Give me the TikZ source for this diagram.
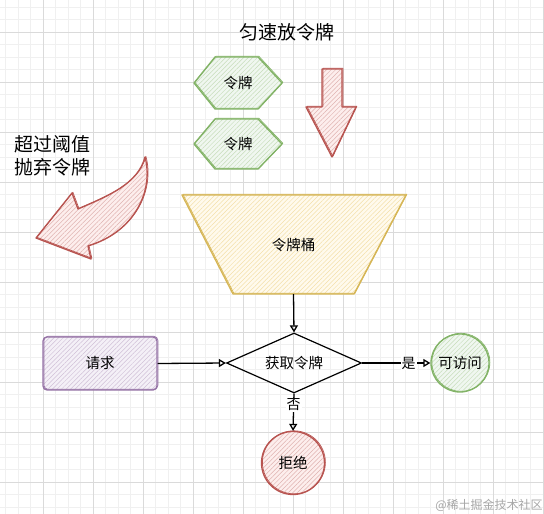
\documentclass[tikz,border=0pt]{standalone}
\usepackage{fontspec}
\setmainfont{Noto Sans CJK SC}
\usetikzlibrary{arrows.meta,shapes.geometric,patterns.meta}
\definecolor{gfill}{HTML}{D5E8D4}\definecolor{gline}{HTML}{82B366}
\definecolor{rfill}{HTML}{F8CECC}\definecolor{rline}{HTML}{B85450}
\definecolor{yfill}{HTML}{FFF2CC}\definecolor{yline}{HTML}{D6B656}
\definecolor{pfill}{HTML}{E1D5E7}\definecolor{pline}{HTML}{9673A6}
\definecolor{minorg}{HTML}{F0F0F0}\definecolor{majorg}{HTML}{DADADA}
\tikzset{
  hatch/.style 2 args={preaction={fill=#1!35!white},pattern={Lines[angle=45,distance=3.2pt,line width=0.5pt]},pattern color=#2!45!white,draw=#2,line width=1.3pt,line join=round,
    postaction={draw=#2,line width=0.7pt,transform canvas={shift={(0.9pt,0.7pt)}}}},
  lbl/.style={font=\fontsize{14.5}{15}\selectfont,inner sep=1pt},
  big/.style={font=\fontsize{19}{23}\selectfont},
  arr/.style={draw=black,line width=1.3pt,-{Triangle[open,length=7pt,width=8pt]}},
  elab/.style={fill=white,font=\fontsize{14}{14}\selectfont,inner sep=1pt}
}
\begin{document}
\begin{tikzpicture}[x=1pt,y=-1pt]
\useasboundingbox (0,0) rectangle (544,514);
\fill[white] (0,0) rectangle (544,514);
\foreach \x in {5.5,18,...,543} \draw[minorg,line width=0.6pt] (\x,0)--(\x,514);
\foreach \y in {7,19.5,...,514} \draw[minorg,line width=0.6pt] (0,\y)--(544,\y);
\foreach \x in {43,93,...,543} \draw[majorg,line width=0.6pt] (\x,0)--(\x,514);
\foreach \y in {32,82,...,514} \draw[majorg,line width=0.6pt] (0,\y)--(544,\y);

\node[big] (title) at (287,32) {匀速放令牌};

% hexagons
\path[hatch={gfill}{gline}] (194,83)--(215,57)--(258,57)--(282,83)--(258,109)--(215,109)--cycle;
\node[lbl] (tok1) at (238,83) {令牌};
\path[hatch={gfill}{gline}] (194,144)--(215,119)--(258,119)--(282,144)--(258,169)--(215,169)--cycle;
\node[lbl] (tok2) at (238,144) {令牌};

% down arrow
\path[hatch={rfill}{rline}] (322,69)--(342,69)--(342,107)--(356,107)--(332,157)--(306,107)--(322,107)--cycle;

% discard text and curved arrow
\node[big,align=left,anchor=west] (discard) at (11,156) {超过阈值\\抛弃令牌};
\path[hatch={rfill}{rline}] (36,238)--(72,193)--(78,209)
  .. controls (108,196) and (138,184) .. (145,157)
  .. controls (154,190) and (135,232) .. (88,246)
  --(91,259)--cycle;

% bucket
\path[hatch={yfill}{yline},pattern color=yfill!70!yline] (182,195)--(406,195)--(354,294)--(233,294)--cycle;
\node[lbl,minimum width=121pt,minimum height=99pt,inner sep=0pt] (bucket) at (293.5,244.5) {令牌桶};

% flow
\node[lbl,draw=black,line width=1.2pt,shape=diamond,aspect=2.25,minimum width=135pt,minimum height=60pt,inner sep=0pt] (get) at (294,363) {获取令牌};
\node[lbl,hatch={pfill}{pline},rounded corners=4pt,minimum width=114pt,minimum height=53pt] (req) at (100,363.5) {请求};
\node[lbl,hatch={gfill}{gline},circle,minimum size=58pt,inner sep=0pt] (ok) at (460,363) {可访问};
\node[lbl,hatch={rfill}{rline},circle,minimum size=63pt,inner sep=0pt] (deny) at (293,463) {拒绝};

\draw[arr] (bucket.south) -- (get.north);
\draw[arr] (req.east) -- (get.west);
\draw[arr] (get.east) -- node[elab,pos=0.68] {是} (ok.west);
\draw[arr] (get.south) -- node[elab,pos=0.3] {否} (deny.north);

\node[font=\fontsize{12}{12}\selectfont,text=black!35] (wm) at (489,505) {@稀土掘金技术社区};
\end{tikzpicture}
\end{document}
